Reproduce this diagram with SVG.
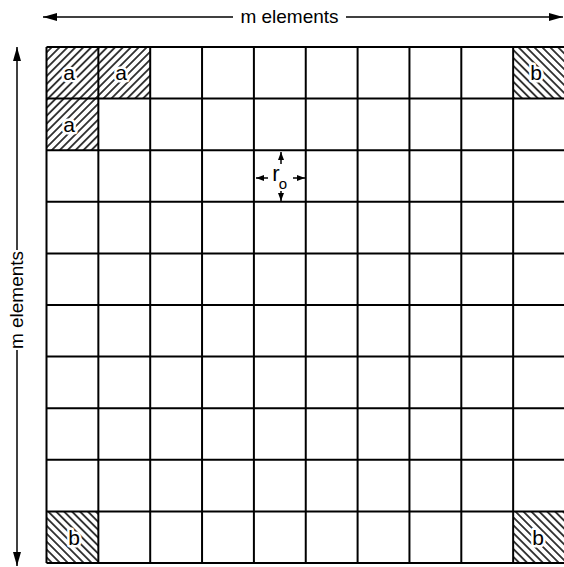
<svg xmlns="http://www.w3.org/2000/svg" width="564" height="567" viewBox="0 0 564 567">
<style>
.grid line{stroke:#000;stroke-width:2;}
.lbl{font-family:"Liberation Sans",Arial,sans-serif;font-size:21px;fill:#000;text-anchor:middle;stroke:#fff;stroke-width:5;paint-order:stroke;stroke-linejoin:round;}
.dim{font-family:"Liberation Sans",Arial,sans-serif;font-size:19px;fill:#000;text-anchor:middle;}
.conn line{stroke:#000;stroke-width:1.5;}
</style>
<defs>
<pattern id="hatchA" patternUnits="userSpaceOnUse" width="5.6" height="5.6" patternTransform="rotate(45)">
<line x1="2.8" y1="0" x2="2.8" y2="5.6" stroke="#000" stroke-width="1.5"/>
</pattern>
<pattern id="hatchB" patternUnits="userSpaceOnUse" width="5.6" height="5.6" patternTransform="rotate(-45)">
<line x1="2.8" y1="0" x2="2.8" y2="5.6" stroke="#000" stroke-width="1.5"/>
</pattern>
<marker id="big" markerUnits="userSpaceOnUse" markerWidth="14" markerHeight="10" refX="14" refY="5" orient="auto">
<path d="M0,1 L14,5 L0,9 Z" fill="#000"/>
</marker>
<marker id="small" markerUnits="userSpaceOnUse" markerWidth="8" markerHeight="7" refX="8" refY="3.5" orient="auto">
<path d="M0,0.5 L8,3.5 L0,6.5 Z" fill="#000"/>
</marker>
</defs>
<rect width="564" height="567" fill="#fff"/>

<g id="cell-a1"><rect x="46.5" y="47" width="51.85" height="51.6" fill="url(#hatchA)"/><text class="lbl" x="69" y="80">a</text></g>
<g id="cell-a2"><rect x="98.35" y="47" width="51.85" height="51.6" fill="url(#hatchA)"/><text class="lbl" x="121" y="80">a</text></g>
<g id="cell-a3"><rect x="46.5" y="98.6" width="51.85" height="51.6" fill="url(#hatchA)"/><text class="lbl" x="69" y="132">a</text></g>
<g id="cell-b1"><rect x="513.15" y="47" width="51.85" height="51.6" fill="url(#hatchB)"/><text class="lbl" x="536" y="80">b</text></g>
<g id="cell-b2"><rect x="46.5" y="511.4" width="51.85" height="51.6" fill="url(#hatchB)"/><text class="lbl" x="74" y="545">b</text></g>
<g id="cell-b3"><rect x="513.15" y="511.4" width="51.85" height="51.6" fill="url(#hatchB)"/><text class="lbl" x="538" y="545">b</text></g>

<g id="grid" class="grid">
<line x1="46.5" y1="47" x2="46.5" y2="563"/>
<line x1="98.35" y1="47" x2="98.35" y2="563"/>
<line x1="150.2" y1="47" x2="150.2" y2="563"/>
<line x1="202.05" y1="47" x2="202.05" y2="563"/>
<line x1="253.9" y1="47" x2="253.9" y2="563"/>
<line x1="305.75" y1="47" x2="305.75" y2="563"/>
<line x1="357.6" y1="47" x2="357.6" y2="563"/>
<line x1="409.45" y1="47" x2="409.45" y2="563"/>
<line x1="461.3" y1="47" x2="461.3" y2="563"/>
<line x1="513.15" y1="47" x2="513.15" y2="563"/>
<line x1="46.5" y1="47" x2="566" y2="47"/>
<line x1="46.5" y1="98.6" x2="566" y2="98.6"/>
<line x1="46.5" y1="150.2" x2="566" y2="150.2"/>
<line x1="46.5" y1="201.8" x2="566" y2="201.8"/>
<line x1="46.5" y1="253.4" x2="566" y2="253.4"/>
<line x1="46.5" y1="305" x2="566" y2="305"/>
<line x1="46.5" y1="356.6" x2="566" y2="356.6"/>
<line x1="46.5" y1="408.2" x2="566" y2="408.2"/>
<line x1="46.5" y1="459.8" x2="566" y2="459.8"/>
<line x1="46.5" y1="511.4" x2="566" y2="511.4"/>
<line x1="46.5" y1="563" x2="566" y2="563"/>
</g>

<g id="connectors" class="conn">
<line x1="233" y1="17" x2="43" y2="17" marker-end="url(#big)"/>
<line x1="346" y1="17" x2="563" y2="17" marker-end="url(#big)"/>
<line x1="17" y1="250" x2="17" y2="47" marker-end="url(#big)"/>
<line x1="17" y1="350" x2="17" y2="566" marker-end="url(#big)"/>
<line x1="281" y1="164" x2="281" y2="152" marker-end="url(#small)"/>
<line x1="281" y1="191" x2="281" y2="201" marker-end="url(#small)"/>
<line x1="268" y1="178" x2="256" y2="178" marker-end="url(#small)"/>
<line x1="293" y1="178" x2="305" y2="178" marker-end="url(#small)"/>
</g>

<g id="labels">
<text class="dim" x="289.5" y="23">m elements</text>
<text class="dim" transform="translate(17,300) rotate(-90)" x="0" y="6">m elements</text>
<text class="dim" x="276" y="181" style="font-size:22px">r</text>
<text class="dim" x="283" y="189" style="font-size:15px">o</text>
</g>
</svg>
